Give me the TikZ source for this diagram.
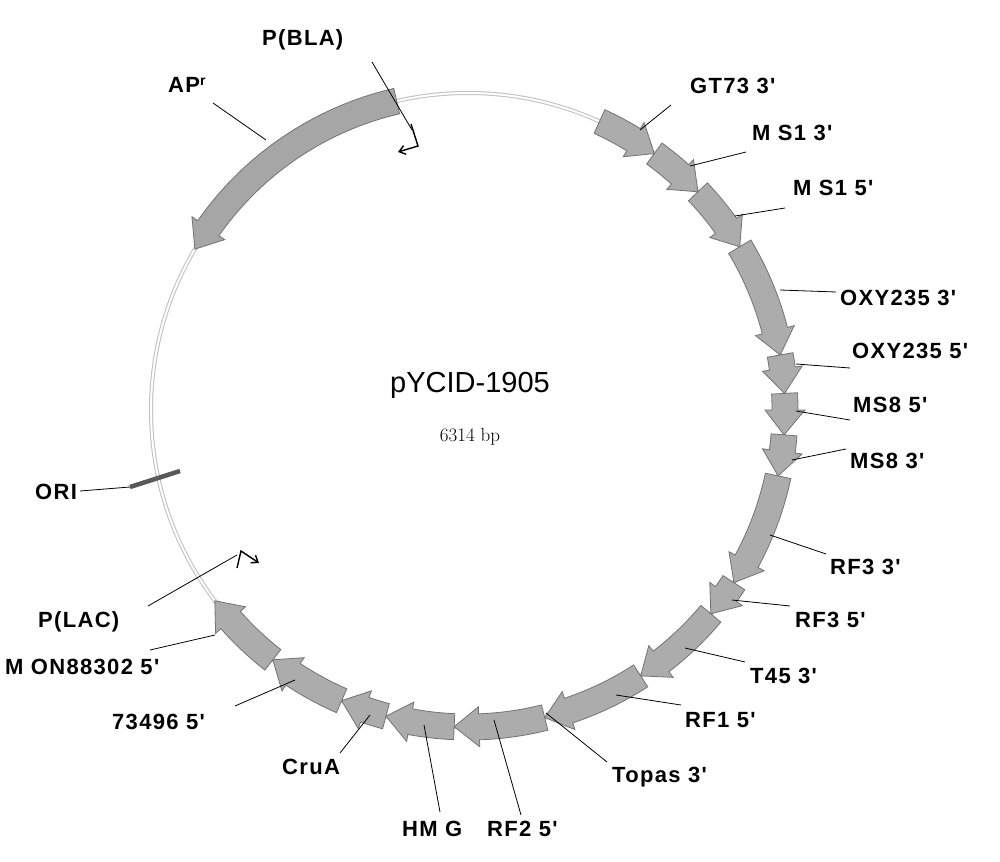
\documentclass[tikz,border=0pt]{standalone}
\usepackage{fontspec}
\setmainfont{Liberation Sans}
\newfontfamily\labfont[LetterSpace=6]{Liberation Sans}
\newfontfamily\serifo{Latin Modern Roman}
\usetikzlibrary{arrows.meta}
\definecolor{afill}{RGB}{172,172,172}
\definecolor{aline}{RGB}{115,115,115}
\newcommand{\arcarrow}[3][afill]{%
  \pgfmathsetmacro{\hs}{#3+((#2>#3)?4.5:-4.5)}%
  \filldraw[fill=#1,draw=aline,line width=0.8pt,shift={(468,410)}]
    (-#2:330) arc[start angle=-#2,end angle=-\hs,radius=330]
    -- (-\hs:337) -- (-#3:317) -- (-\hs:297) -- (-\hs:304)
    arc[start angle=-\hs,end angle=-#2,radius=304] -- cycle;}
\tikzset{lab/.style={font=\labfont\bfseries\fontsize{22}{24}\selectfont,inner sep=0pt,anchor=west},
  lead/.style={line width=0.8pt,black}}
\begin{document}
\begin{tikzpicture}[x=1pt,y=-1pt]
\useasboundingbox (0,0) rectangle (1000,861);
\clip (0,0) rectangle (1000,861);
\fill[white] (0,0) rectangle (1000,861);
% backbone
\draw[line width=4pt,color=black!25] (468,410) circle[radius=317];
\draw[line width=2pt,white] (468,410) circle[radius=317];
% features
\arcarrow[black!35]{103}{149.5}
\foreach \a/\b in {65.5/54,54/43.5,43.5/31,31/10,10/3,3/-4.5,-4.5/-12,-12/-33,-33/-40,-40/-57,-57/-76,-76/-92.5,-92.5/-105,-105/-113.5,-113.5/-128,-128/-143}{\arcarrow{\a}{\b}}
% ORI
\draw[line width=4.5pt,color=black!65] (130,487) -- (180,471);
\draw[lead] (80,491) -- (130,487);
\node[lab] (ori) at (35,492) {ORI};
% promoters
\draw[line width=1.4pt,-{Straight Barb[length=6pt,width=9pt]}] (411,124) -- (418,146) -- (398,152);
\draw[line width=1.4pt,-{Straight Barb[length=6pt,width=9pt]}] (237,568) -- (241,551) -- (259,563);
% labels
\node[lab] (pbla) at (262,40) {P(BLA)};
\draw[lead] (372,62) -- (412,130);
\node[lab] (apr) at (168,85) {AP\textsuperscript{\fontsize{14}{14}\selectfont r}};
\draw[lead] (213,103) -- (266,140);
\node[lab] (l1) at (690,86) {GT73 3'};
\draw[lead] (671,105) -- (640,130);
\node[lab] (l2) at (752,133) {M S1 3'};
\draw[lead] (746,152) -- (690,166);
\node[lab] (l3) at (793,188) {M S1 5'};
\draw[lead] (785,208) -- (735,216);
\node[lab] (l4) at (840,298) {OXY235 3'};
\draw[lead] (836,292) -- (780,290);
\node[lab] (l5) at (852,351) {OXY235 5'};
\draw[lead] (850,368) -- (796,364);
\node[lab] (l6) at (853,405) {MS8 5'};
\draw[lead] (850,420) -- (796,411);
\node[lab] (l7) at (850,461) {MS8 3'};
\draw[lead] (846,449) -- (792,460);
\node[lab] (l8) at (830,567) {RF3 3'};
\draw[lead] (826,554) -- (770,535);
\node[lab] (l9) at (795,620) {RF3 5'};
\draw[lead] (790,606) -- (732,600);
\node[lab] (l10) at (750,676) {T45 3'};
\draw[lead] (745,662) -- (685,648);
\node[lab] (l11) at (685,720) {RF1 5'};
\draw[lead] (681,705) -- (616,695);
\node[lab] (l12) at (612,777) {Topas 3'};
\draw[lead] (607,762) -- (546,713);
\node[lab] (l13) at (487,829) {RF2 5'};
\draw[lead] (521,815) -- (494,720);
\node[lab] (l14) at (402,829) {HM G};
\draw[lead] (440,812) -- (424,725);
\node[lab] (l15) at (282,767) {CruA};
\draw[lead] (340,753) -- (370,715);
\node[lab] (l16) at (112,722) {73496 5'};
\draw[lead] (235,706) -- (295,680);
\node[lab] (l17) at (5,667) {M ON88302 5'};
\draw[lead] (150,650) -- (215,635);
\node[lab] (l18) at (38,622) {P(LAC)};
\draw[lead] (148,606) -- (237,555);
% centre
\node[font=\fontsize{29}{31}\selectfont] (name) at (470,385) {pYCID-1905};
\node[font=\serifo\fontsize{19}{21}\selectfont] (bp) at (470,437) {6314 bp};
\end{tikzpicture}
\end{document}
